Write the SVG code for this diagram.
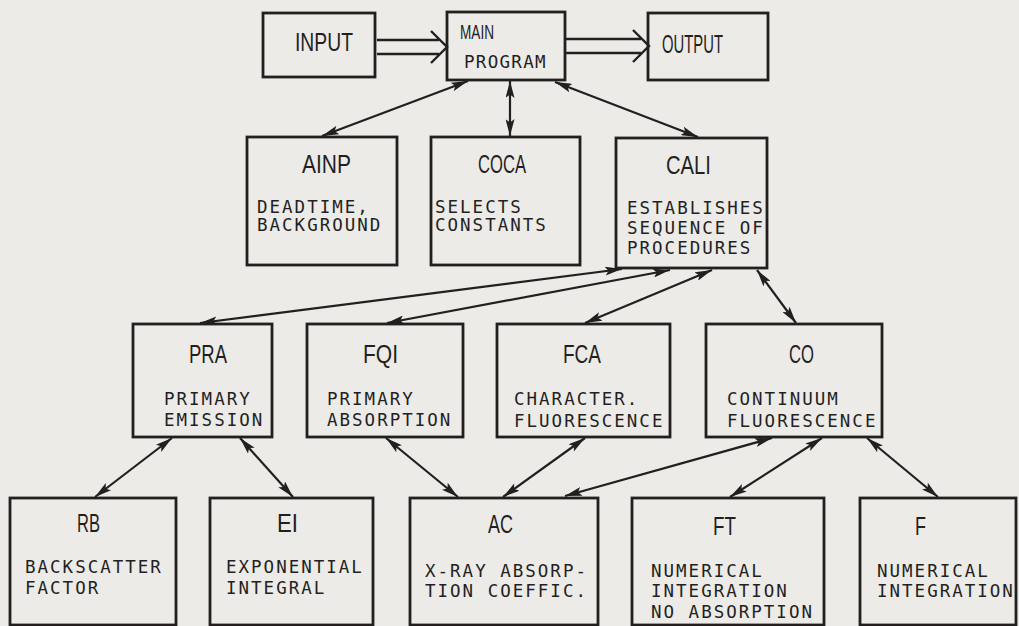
<svg xmlns="http://www.w3.org/2000/svg" width="1019" height="626" viewBox="0 0 1019 626">
<style>
.bg{fill:#ecebe7}
.box{fill:none;stroke:#241f1f;stroke-width:2.8}
.t{font-family:"Liberation Sans","DejaVu Sans",sans-serif;font-size:26px;fill:#241f1f}
.m{font-family:"Liberation Sans","DejaVu Sans",sans-serif;font-size:21px;fill:#241f1f}
.d{font-family:"DejaVu Sans Mono","Liberation Mono",monospace;font-size:17.5px;letter-spacing:2px;fill:#241f1f}
.c{fill:none;stroke:#241f1f;stroke-width:2.2;marker-start:url(#ah);marker-end:url(#ah)}
.h{fill:none;stroke:#241f1f;stroke-width:2.4;stroke-linejoin:miter}
</style>
<defs>
<marker id="ah" markerUnits="userSpaceOnUse" viewBox="0 0 17 9" markerWidth="17" markerHeight="9" refX="17" refY="4.5" orient="auto-start-reverse">
<path d="M0,0 L17,4.5 L0,9 L3.5,4.5 Z" fill="#241f1f"/>
</marker>
</defs>
<rect class="bg" x="0" y="0" width="1019" height="626"/>

<g id="connectors">
<path class="h" d="M377,40 H439 M377,54 H439 M431,31 L447,47 L431,63"/>
<path class="h" d="M565,39 H641 M565,53 H641 M633,30 L649,46 L633,62"/>
<line class="c" x1="468" y1="81" x2="322" y2="136"/>
<line class="c" x1="510" y1="81" x2="510" y2="136"/>
<line class="c" x1="555" y1="82" x2="698" y2="137"/>
<line class="c" x1="622" y1="269" x2="200" y2="323"/>
<line class="c" x1="670" y1="270" x2="387" y2="323"/>
<line class="c" x1="712" y1="270" x2="585" y2="323"/>
<line class="c" x1="757" y1="270" x2="796" y2="323"/>
<line class="c" x1="172" y1="438" x2="95" y2="497"/>
<line class="c" x1="240" y1="438" x2="293" y2="497"/>
<line class="c" x1="386" y1="438" x2="458" y2="497"/>
<line class="c" x1="585" y1="438" x2="503" y2="497"/>
<line class="c" x1="772" y1="438" x2="565" y2="496"/>
<line class="c" x1="822" y1="438" x2="730" y2="497"/>
<line class="c" x1="867" y1="438" x2="938" y2="497"/>
</g>

<g id="input"><rect class="box" x="263" y="13" width="112" height="64"/>
<text class="t" x="295" y="51" textLength="58" lengthAdjust="spacingAndGlyphs">INPUT</text></g>
<g id="main"><rect class="box" x="447" y="12" width="118" height="68"/>
<text class="m" x="460" y="39" textLength="34" lengthAdjust="spacingAndGlyphs">MAIN</text>
<text class="d" x="464" y="68" style="letter-spacing:1.3px">PROGRAM</text></g>
<g id="output"><rect class="box" x="648" y="13" width="120" height="67"/>
<text class="t" x="662" y="53" textLength="61" lengthAdjust="spacingAndGlyphs">OUTPUT</text></g>

<g id="ainp"><rect class="box" x="247" y="137" width="150" height="128"/>
<text class="t" x="302" y="173" textLength="49" lengthAdjust="spacingAndGlyphs">AINP</text>
<text class="d" x="257" y="213">DEADTIME,</text><text class="d" x="257" y="231">BACKGROUND</text></g>
<g id="coca"><rect class="box" x="431" y="137" width="149" height="128"/>
<text class="t" x="478" y="173" textLength="48" lengthAdjust="spacingAndGlyphs">COCA</text>
<text class="d" x="435" y="213">SELECTS</text><text class="d" x="435" y="231">CONSTANTS</text></g>
<g id="cali"><rect class="box" x="616" y="138" width="151" height="130"/>
<text class="t" x="666" y="174" textLength="45" lengthAdjust="spacingAndGlyphs">CALI</text>
<text class="d" x="627" y="214">ESTABLISHES</text><text class="d" x="627" y="234">SEQUENCE OF</text><text class="d" x="627" y="254">PROCEDURES</text></g>

<g id="pra"><rect class="box" x="133" y="324" width="139" height="113"/>
<text class="t" x="189" y="363" textLength="38" lengthAdjust="spacingAndGlyphs">PRA</text>
<text class="d" x="164" y="405">PRIMARY</text><text class="d" x="164" y="426">EMISSION</text></g>
<g id="fqi"><rect class="box" x="307" y="324" width="156" height="113"/>
<text class="t" x="363" y="363" textLength="35" lengthAdjust="spacingAndGlyphs">FQI</text>
<text class="d" x="327" y="405">PRIMARY</text><text class="d" x="327" y="426">ABSORPTION</text></g>
<g id="fca"><rect class="box" x="497" y="324" width="173" height="113"/>
<text class="t" x="563" y="363" textLength="38" lengthAdjust="spacingAndGlyphs">FCA</text>
<text class="d" x="514" y="405">CHARACTER.</text><text class="d" x="514" y="427">FLUORESCENCE</text></g>
<g id="co"><rect class="box" x="706" y="324" width="176" height="113"/>
<text class="t" x="789" y="363" textLength="25" lengthAdjust="spacingAndGlyphs">CO</text>
<text class="d" x="727" y="405">CONTINUUM</text><text class="d" x="727" y="427">FLUORESCENCE</text></g>

<g id="rb"><rect class="box" x="10" y="498" width="166" height="127"/>
<text class="t" x="77" y="532" textLength="23" lengthAdjust="spacingAndGlyphs">RB</text>
<text class="d" x="25" y="573">BACKSCATTER</text><text class="d" x="25" y="594">FACTOR</text></g>
<g id="ei"><rect class="box" x="210" y="498" width="163" height="127"/>
<text class="t" x="277" y="532" textLength="21" lengthAdjust="spacingAndGlyphs">EI</text>
<text class="d" x="226" y="573">EXPONENTIAL</text><text class="d" x="226" y="594">INTEGRAL</text></g>
<g id="ac"><rect class="box" x="410" y="498" width="188" height="127"/>
<text class="t" x="488" y="533" textLength="25" lengthAdjust="spacingAndGlyphs">AC</text>
<text class="d" x="425" y="577">X-RAY ABSORP-</text><text class="d" x="425" y="597">TION COEFFIC.</text></g>
<g id="ft"><rect class="box" x="632" y="498" width="192" height="127"/>
<text class="t" x="713" y="535" textLength="23" lengthAdjust="spacingAndGlyphs">FT</text>
<text class="d" x="651" y="577">NUMERICAL</text><text class="d" x="651" y="597">INTEGRATION</text><text class="d" x="651" y="618">NO ABSORPTION</text></g>
<g id="f"><rect class="box" x="860" y="498" width="156" height="127"/>
<text class="t" x="915" y="535" textLength="11" lengthAdjust="spacingAndGlyphs">F</text>
<text class="d" x="877" y="577">NUMERICAL</text><text class="d" x="877" y="597">INTEGRATION</text></g>
</svg>
